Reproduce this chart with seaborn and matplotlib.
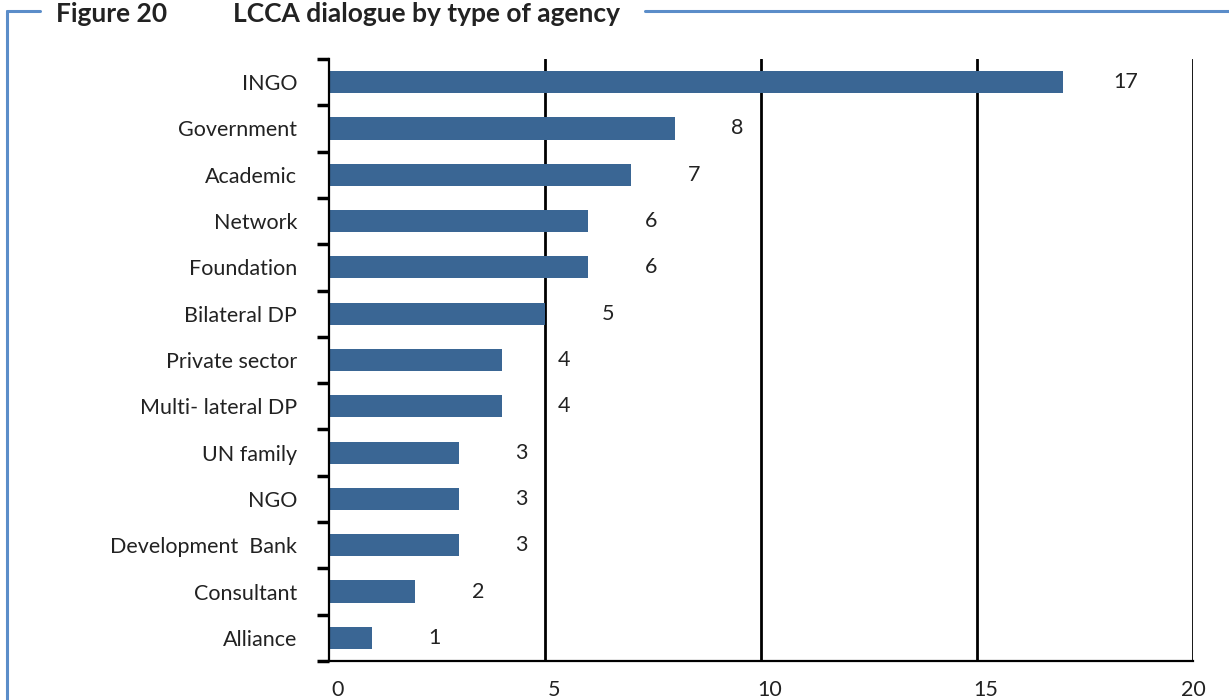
import matplotlib
matplotlib.use("Agg")
import matplotlib.pyplot as plt
import matplotlib.transforms as mtransforms
from matplotlib.lines import Line2D
import seaborn as sns
import pandas as pd
import numpy as np

# Agency types and number of LCCA dialogues
agencies = ["INGO", "Government", "Academic", "Network", "Foundation",
            "Bilateral DP", "Private sector", "Multi- lateral DP", "UN family",
            "NGO", "Development  Bank", "Consultant", "Alliance"]
counts = [17, 8, 7, 6, 6, 5, 4, 4, 3, 3, 3, 2, 1]
x_ticks = [0, 5, 10, 15, 20]

df = pd.DataFrame({"agency": agencies, "count": counts})

sns.set_theme(style="white")
plt.rcParams["font.family"] = ["Lato", "DejaVu Sans"]

W, H = 1229, 700
fig = plt.figure(figsize=(W / 100, H / 100), dpi=100)
ax = fig.add_axes([329 / W, 1 - 661 / H, (1193 - 329) / W, (661 - 59) / H])

bar_color = "#3a6694"
sns.barplot(data=df, x="count", y="agency", order=agencies, orient="h",
            color=bar_color, width=0.48, saturation=1, linewidth=0,
            ax=ax, zorder=3)

ax.set_xlim(0, 20)
ax.set_ylim(len(agencies) - 0.5, -0.5)
ax.set_xlabel("")
ax.set_ylabel("")

# vertical gridlines
for v in x_ticks[1:]:
    ax.axvline(v, color="black", lw=2, zorder=2)

for s in ["top", "right"]:
    ax.spines[s].set_visible(False)
for s in ["left", "bottom"]:
    ax.spines[s].set_color("black")
    ax.spines[s].set_linewidth(1.6)
ax.spines["left"].set_zorder(4)

txt = "#222222"
fs = 15.5

# x ticks
ax.set_xticks(x_ticks)
ax.set_xticklabels([str(t) for t in x_ticks])
ax.tick_params(axis="x", which="major", direction="out", length=8, width=2,
               color="black", pad=6, labelsize=fs, labelcolor=txt)
# nudge x labels slightly right except the last
for lbl in ax.get_xticklabels()[:-1]:
    lbl.set_transform(lbl.get_transform() + mtransforms.ScaledTranslation(9 / 100, 0, fig.dpi_scale_trans))

# y ticks: labels at categories, tick marks at row boundaries
ax.set_yticks(np.arange(len(agencies)))
ax.set_yticklabels(agencies)
ax.set_yticks(np.arange(-0.5, len(agencies) + 0.5, 1), minor=True)
ax.tick_params(axis="y", which="major", length=0, pad=23, labelsize=fs, labelcolor=txt)
ax.tick_params(axis="y", which="minor", direction="out", length=9, width=2.5, color="black", left=True)

# value labels
for i, v in enumerate(counts):
    ax.text(v + 1.45, i, str(v), ha="center", va="center", fontsize=fs, color=txt)

# frame and heading
frame_color = "#5b8dc9"
fy = 1 - 11 / H
fig.add_artist(Line2D([7 / W, 7 / W], [0, fy], color=frame_color, lw=2.2, transform=fig.transFigure))
fig.add_artist(Line2D([7 / W, 40 / W], [fy, fy], color=frame_color, lw=2.2, transform=fig.transFigure))
fig.add_artist(Line2D([645 / W, 1], [fy, fy], color=frame_color, lw=2.2, transform=fig.transFigure))
fig.text(56 / W, 1 - 14 / H, "Figure 20", ha="left", va="center", fontsize=19, fontweight="bold", color=txt)
fig.text(233 / W, 1 - 14 / H, "LCCA dialogue by type of agency", ha="left", va="center",
         fontsize=19, fontweight="bold", color=txt)

fig.savefig("out.png", dpi=100)
